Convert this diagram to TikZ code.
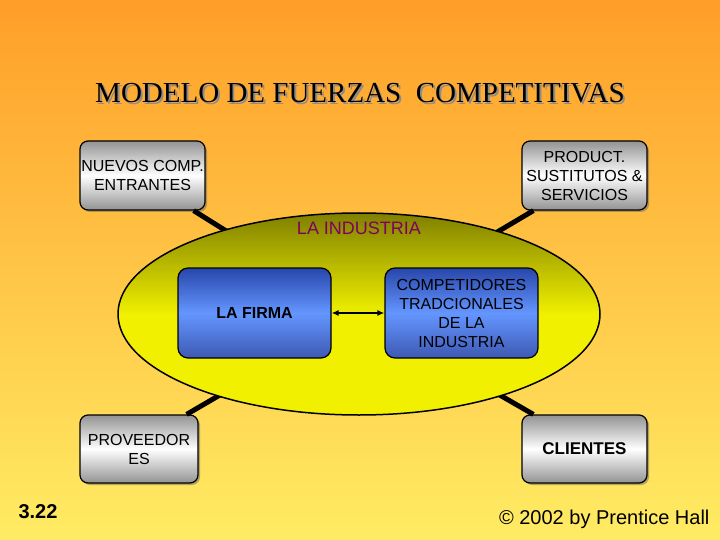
\documentclass[tikz,border=0pt]{standalone}
\usepackage{fontspec}
\setmainfont{Liberation Sans}
\newfontfamily\serifT{Liberation Serif}
\usetikzlibrary{shadows,arrows.meta}
\definecolor{bgtop}{RGB}{255,158,40}
\definecolor{bgbot}{RGB}{255,236,100}
\definecolor{olive}{RGB}{128,128,0}
\definecolor{ylw}{RGB}{240,240,0}
\definecolor{indus}{RGB}{128,0,96}
\definecolor{bdark}{RGB}{40,70,170}
\definecolor{blight}{RGB}{100,150,255}
\tikzset{
  graybox/.style={draw=black,line width=1.2pt,rounded corners=8pt,
    top color=gray!85,bottom color=gray!85,middle color=white,
    drop shadow={shadow xshift=2pt,shadow yshift=-2pt,fill=black!60},
    align=center,inner sep=0pt,font=\fontsize{16}{19}\selectfont},
  bluebox/.style={draw=black,line width=1.2pt,rounded corners=10pt,
    top color=bdark,bottom color=bdark!90,middle color=blight,
    align=center,inner sep=0pt,font=\fontsize{16}{19}\selectfont},
  conn/.style={line width=5pt,black}
}
\begin{document}
\begin{tikzpicture}[x=1pt,y=-1pt]
\shade[top color=bgtop,bottom color=bgbot] (0,0) rectangle (720,540);
\useasboundingbox (0,0) rectangle (720,540);
\node (title) [font=\serifT\fontsize{29}{34}\selectfont,
  preaction={}] at (360,94) {\llap{\textcolor{black!45}{\rlap{\kern2pt\raisebox{-2pt}{MODELO DE FUERZAS\ \ COMPETITIVAS}}}}MODELO DE FUERZAS\ \ COMPETITIVAS};
\coordinate (ec) at (359,314);
\node[graybox,minimum width=125pt,minimum height=69pt] (nuevos) at (142.5,175.5) {NUEVOS COMP.\\ENTRANTES};
\node[graybox,minimum width=125pt,minimum height=69pt] (prod) at (584.5,175.5) {PRODUCT.\\SUSTITUTOS \&\\SERVICIOS};
\node[graybox,minimum width=118pt,minimum height=68pt] (prov) at (139,449) {PROVEEDOR\\ES};
\node[graybox,minimum width=125pt,minimum height=68pt,font=\bfseries\fontsize{17}{20}\selectfont] (cli) at (584.5,449) {CLIENTES};
\draw[conn] (nuevos.south east)++(-12,0) -- (ec);
\draw[conn] (prod.south west)++(12,0) -- (ec);
\draw[conn] (prov.north east)++(-12,0) -- (ec);
\draw[conn] (cli.north west)++(12,0) -- (ec);
\shade[draw=black,line width=1.5pt,top color=olive,bottom color=ylw,middle color=ylw] (ec) ellipse [x radius=241,y radius=101];
\node (ind) [text=indus,font=\fontsize{18}{21}\selectfont] at (359,228) {LA INDUSTRIA};
\node[bluebox,minimum width=153pt,minimum height=90pt,font=\bfseries\fontsize{16}{19}\selectfont] (firma) at (254.5,313) {LA FIRMA};
\node[bluebox,minimum width=153pt,minimum height=90pt] (comp) at (461.5,313) {COMPETIDORES\\TRADCIONALES\\DE LA\\INDUSTRIA};
\draw[{Latex[length=7pt,width=6pt]}-{Latex[length=7pt,width=6pt]},line width=1.5pt] (firma.east) -- (comp.west);
\node (num) [font=\bfseries\fontsize{20}{24}\selectfont] at (38,512) {3.22};
\node (copy) [font=\fontsize{20}{24}\selectfont,anchor=east] at (713,519) {© 2002 by Prentice Hall};
\end{tikzpicture}
\end{document}
